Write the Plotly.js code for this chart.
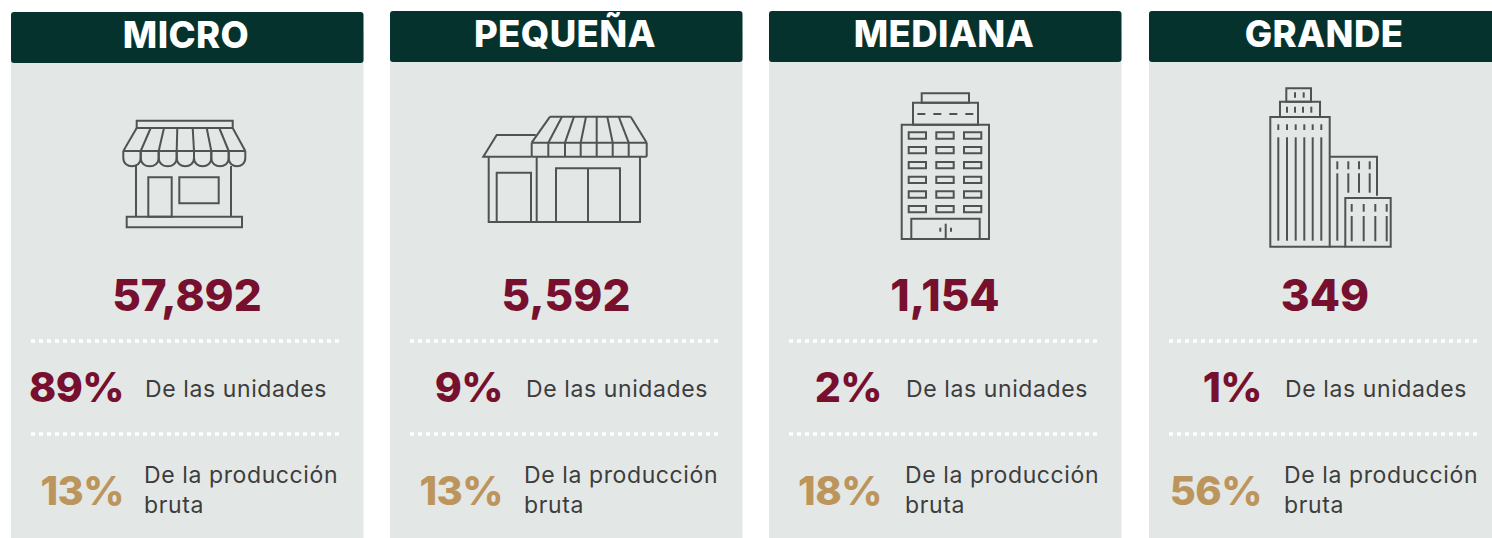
<!DOCTYPE html>
<html><head><meta charset="utf-8">
<script src="https://cdn.plot.ly/plotly-3.0.1.min.js"></script>
<style>html,body{margin:0;padding:0;background:#fff;overflow:hidden}#c{width:1492px;height:538px}
.scatterlayer .trace:nth-child(1) text{letter-spacing:.4px}
.scatterlayer .trace:nth-child(3) text,.scatterlayer .trace:nth-child(4) text{letter-spacing:-.5px}
.scatterlayer .trace:nth-child(5) text,.scatterlayer .trace:nth-child(6) text{letter-spacing:.6px}
</style>
</head><body><div id="c"></div>
<script>
const categories = ["MICRO","PEQUEÑA","MEDIANA","GRANDE"];
const counts = ["57,892","5,592","1,154","349"];
const unitShares = ["89%","9%","2%","1%"];
const outputShares = ["13%","13%","18%","56%"];
const unitLabel = "De las unidades";
const outputLabel = "De la producción<br>bruta";

const panelLeft = [11,390,769,1149];
const headerTop = [12,11,11,11];
const unitLabelX = [145,526,906,1285];
const outputLabelX = [144,524,905,1284];
const W = 352.5;
const FONT = "Inter, 'Noto Sans', sans-serif";
const C = {panel:"#e3e7e6",head:"#06322e",wine:"#770f2e",gold:"#bc955c",txt:"#3d3d3d",icon:"#4f5452"};

const shapes = [];
const add = (path,w)=>shapes.push({type:"path",xref:"x",yref:"y",path,line:{color:C.icon,width:w||2},layer:"above"});
const rect=(a,b,c,d)=>add(`M${a},${b}L${c},${b}L${c},${d}L${a},${d}Z`);
const seg=(a,b,c,d,w)=>add(`M${a},${b}L${c},${d}`,w);

panelLeft.forEach((x,i)=>{
  const t=headerTop[i], r=3, e=x+W;
  shapes.push({type:"rect",xref:"x",yref:"y",x0:x,x1:e,y0:t+20,y1:538,fillcolor:C.panel,line:{width:0},layer:"below"});
  shapes.push({type:"path",xref:"x",yref:"y",fillcolor:C.head,line:{width:0},layer:"below",
    path:`M${x+r},${t}L${e-r},${t}Q${e},${t} ${e},${t+r}L${e},${t+51-r}Q${e},${t+51} ${e-r},${t+51}L${x+r},${t+51}Q${x},${t+51} ${x},${t+51-r}L${x},${t+r}Q${x},${t} ${x+r},${t}Z`});
  [341,434].forEach(y=>shapes.push({type:"line",xref:"x",yref:"y",x0:x+20,x1:x+329,y0:y,y1:y,line:{color:"#ffffff",width:3.5,dash:"4px,4px"},layer:"below"}));
});

/* icon 1: shop */
rect(136.7,120.7,232.7,128);
const t1=[136.7,150.7,164,177.3,192.7,206.7,219.3,232.7], b1=[123.3,140.7,158.7,176.7,194,211.3,228.7,245.3];
t1.forEach((v,i)=>seg(v,128,b1[i],151));
seg(123.3,151,245.3,151); seg(136.7,128,232.7,128);
for(let i=0;i<7;i++){const a=b1[i],c=b1[i+1];add(`M${a},151L${a},158C${a},169 ${c},169 ${c},158L${c},151`);}
seg(136,166,136,216.7); seg(231,166,231,216.7);
rect(148.3,177.3,171.7,216.7); rect(179.3,177.3,218.7,203.3); rect(126.7,216.7,242,227.3);

/* icon 2: small shop */
const t2=[550,562,574,586,596.7,607.3,618.7,630.7], b2=[531.7,548.3,565,580.7,596.7,612.7,628.7,646.7];
t2.forEach((v,i)=>{seg(v,116.7,b2[i],142.7);seg(b2[i],142.7,b2[i],156.7);});
seg(550,116.7,630.7,116.7); seg(531.7,142.7,646.7,142.7); seg(531.7,156.7,646.7,156.7);
add("M535.7,135L496.7,135L483.3,156.7L531.7,156.7");
add("M488.7,156.7L488.7,222L640,222L640,156.7");
seg(536.7,156.7,536.7,222); rect(496.7,172.7,531,222); rect(556,168.3,620,222); seg(588,168.3,588,222);

/* icon 3: medium building */
rect(921.7,93.3,969,102.7); rect(913,102.7,978,124.7); rect(901.7,124.7,989,239);
[[917.3,925.3],[933.3,941.3],[949.3,957.3],[965.3,973.3]].forEach(d=>seg(d[0],114,d[1],114));
[[908.7,926],[936.3,953.7],[964,981.3]].forEach(cx=>[[132.3,138.7],[147,153.3],[162,168.3],[176.7,183],[191.3,197.7],[206,212.3]].forEach(ry=>rect(cx[0],ry[0],cx[1],ry[1])));
rect(911.3,218.7,979.7,239); seg(945.7,223.7,945.7,239); seg(940.3,227.7,940.3,231.7); seg(951,227.7,951,231.7);

/* icon 4: tall building */
rect(1286.3,88.3,1311,101.7); rect(1280,101.7,1320,117); rect(1270.3,117,1329.7,246.7);
[1295,1303.7].forEach(x=>seg(x,92.3,x,97.7));
[1287,1295,1303,1311.3].forEach(x=>seg(x,106.7,x,112.7));
[1278.3,1287,1295.7,1304.3,1312.7,1321.3].forEach(x=>{seg(x,124.3,x,130);seg(x,137.3,x,240.7);});
add("M1329.7,156.7L1377,156.7L1377,195.7");
[1337.3,1348.3,1359,1369.7].forEach((x,i)=>{seg(x,161.3,x,169.3);seg(x,173.3,x,i?192.7:240.7);});
rect(1345.3,198,1390.7,246.7); seg(1329.7,246.7,1345.3,246.7);
[1351.7,1363.7,1375.3,1386.7].forEach(x=>{seg(x,204,x,211.7);seg(x,216,x,241.3);});

const txt=(xs,ys,text,pos,size,color,weight)=>({type:"scatter",mode:"text",x:xs,y:ys,text,textposition:pos,
  textfont:{family:FONT,size,color,weight},hoverinfo:"skip",cliponaxis:false});
const rep=(v)=>categories.map(()=>v);

const traces=[
  txt(panelLeft.map(x=>x+175),headerTop.map(t=>t+27),categories,"middle center",36.5,"#ffffff",800),
  txt(panelLeft.map(x=>x+176),rep(300),counts,"middle center",44,C.wine,800),
  txt(panelLeft.map(x=>x+113),rep(392),unitShares,"middle left",41,C.wine,800),
  txt(panelLeft.map(x=>x+113),rep(495),outputShares,"middle left",40,C.gold,800),
  txt(unitLabelX,rep(391),rep(unitLabel),"middle right",23,C.txt,400),
  txt(outputLabelX,rep(492),rep(outputLabel),"middle right",23,C.txt,400)
];

Plotly.newPlot("c",traces,{
  width:1492,height:538,margin:{l:0,r:0,t:0,b:0},showlegend:false,
  paper_bgcolor:"#ffffff",plot_bgcolor:"#ffffff",
  xaxis:{range:[0,1492],visible:false,fixedrange:true},
  yaxis:{range:[538,0],visible:false,fixedrange:true},
  shapes
},{staticPlot:true,displayModeBar:false});
</script></body></html>
